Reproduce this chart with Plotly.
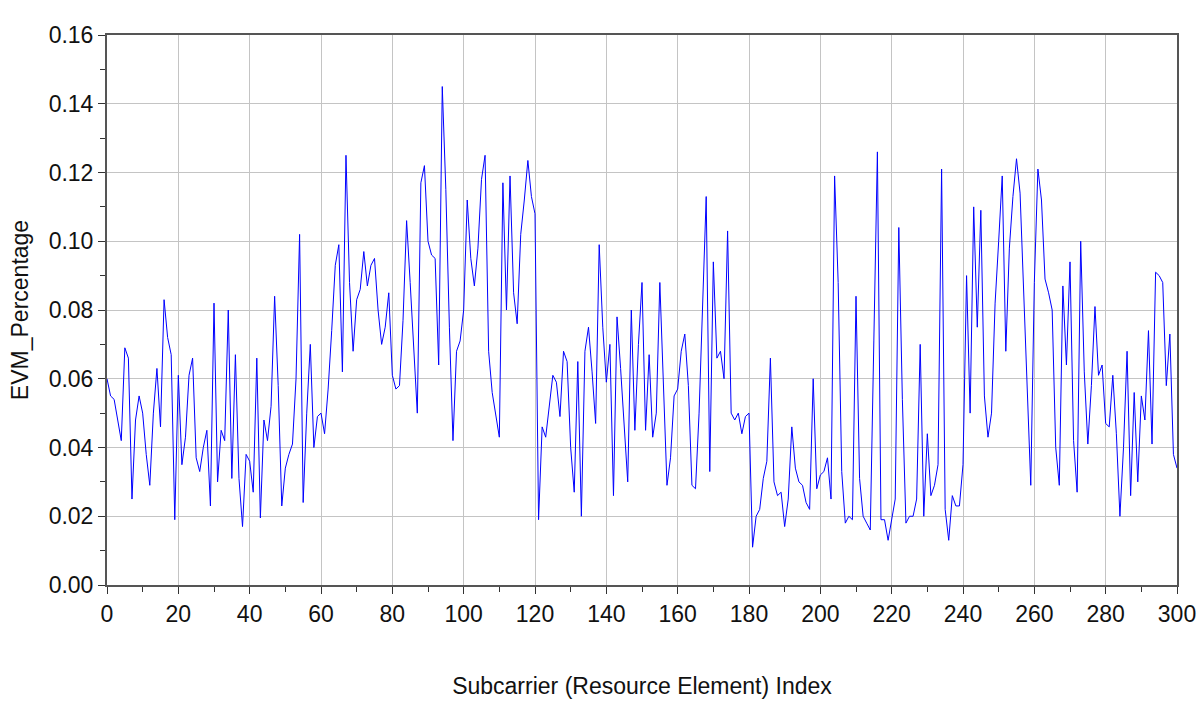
import plotly.graph_objects as go

# EVM per subcarrier (resource element) index, 0..300
subcarrier_index = list(range(301))
evm_percentage = [
    0.060, 0.055, 0.054, 0.048, 0.042, 0.069, 0.066, 0.025, 0.048, 0.055,
    0.050, 0.038, 0.029, 0.050, 0.063, 0.046, 0.083, 0.072, 0.067, 0.019,
    0.061, 0.035, 0.043, 0.061, 0.066, 0.037, 0.033, 0.040, 0.045, 0.023,
    0.082, 0.030, 0.045, 0.042, 0.080, 0.031, 0.067, 0.031, 0.017, 0.038,
    0.036, 0.027, 0.066, 0.0195, 0.048, 0.042, 0.052, 0.084, 0.058, 0.023,
    0.034, 0.038, 0.041, 0.060, 0.102, 0.024, 0.050, 0.070, 0.040, 0.049,
    0.050, 0.044, 0.057, 0.074, 0.093, 0.099, 0.062, 0.125, 0.088, 0.068,
    0.083, 0.086, 0.097, 0.087, 0.093, 0.095, 0.080, 0.070, 0.075, 0.085,
    0.061, 0.057, 0.058, 0.077, 0.106, 0.088, 0.067, 0.050, 0.117, 0.122,
    0.100, 0.096, 0.095, 0.064, 0.145, 0.115, 0.075, 0.042, 0.068, 0.071,
    0.080, 0.112, 0.095, 0.087, 0.098, 0.118, 0.125, 0.068, 0.056, 0.050,
    0.043, 0.117, 0.080, 0.119, 0.085, 0.076, 0.102, 0.112, 0.1235, 0.113,
    0.108, 0.019, 0.046, 0.043, 0.053, 0.061, 0.059, 0.049, 0.068, 0.065,
    0.040, 0.027, 0.065, 0.020, 0.068, 0.075, 0.062, 0.047, 0.099, 0.075,
    0.059, 0.070, 0.026, 0.078, 0.063, 0.045, 0.030, 0.080, 0.045, 0.070,
    0.088, 0.045, 0.067, 0.043, 0.050, 0.088, 0.060, 0.029, 0.037, 0.055,
    0.057, 0.068, 0.073, 0.058, 0.029, 0.028, 0.050, 0.080, 0.113, 0.033,
    0.094, 0.066, 0.068, 0.060, 0.103, 0.050, 0.048, 0.050, 0.044, 0.049,
    0.050, 0.011, 0.020, 0.022, 0.031, 0.036, 0.066, 0.030, 0.026, 0.027,
    0.017, 0.025, 0.046, 0.034, 0.030, 0.029, 0.024, 0.022, 0.060, 0.028,
    0.032, 0.033, 0.037, 0.025, 0.119, 0.088, 0.033, 0.018, 0.020, 0.019,
    0.084, 0.031, 0.020, 0.018, 0.016, 0.071, 0.126, 0.019, 0.019, 0.013,
    0.019, 0.025, 0.104, 0.054, 0.018, 0.020, 0.020, 0.025, 0.070, 0.020,
    0.044, 0.026, 0.029, 0.035, 0.121, 0.022, 0.013, 0.026, 0.023, 0.023,
    0.035, 0.090, 0.050, 0.110, 0.075, 0.109, 0.055, 0.043, 0.050, 0.082,
    0.100, 0.119, 0.068, 0.098, 0.113, 0.124, 0.114, 0.086, 0.062, 0.029,
    0.088, 0.121, 0.112, 0.089, 0.085, 0.080, 0.040, 0.029, 0.087, 0.064,
    0.094, 0.042, 0.027, 0.100, 0.062, 0.041, 0.058, 0.081, 0.061, 0.064,
    0.047, 0.046, 0.061, 0.044, 0.020, 0.040, 0.068, 0.026, 0.056, 0.030,
    0.055, 0.048, 0.074, 0.041, 0.091, 0.090, 0.088, 0.058, 0.073, 0.038,
    0.034,
]

x_title = "Subcarrier (Resource Element) Index"
y_title = "EVM_Percentage"

FONT = "Liberation Sans Narrow, Arial Narrow, Liberation Sans, Arial, sans-serif"
GRID = "#c4c4c4"
AXIS = "#555555"

fig = go.Figure(
    go.Scatter(
        x=subcarrier_index,
        y=evm_percentage,
        mode="lines",
        line=dict(color="#0000ff", width=1),
        hoverinfo="x+y",
    )
)

fig.update_layout(
    width=1200,
    height=702,
    margin=dict(l=107, r=23, t=35, b=117, autoexpand=False),
    paper_bgcolor="white",
    plot_bgcolor="white",
    showlegend=False,
    font=dict(family=FONT, size=23, color="#111111"),
)

fig.update_xaxes(
    range=[0, 300],
    tick0=0,
    dtick=20,
    ticks="outside",
    ticklen=7,
    tickcolor="#333333",
    showgrid=True,
    gridcolor=GRID,
    gridwidth=1,
    showline=True,
    linecolor=AXIS,
    linewidth=2,
    mirror=True,
    zeroline=False,
    automargin=False,
    minor=dict(dtick=10, ticks="outside", ticklen=5, tickcolor="#333333", showgrid=False),
    tickfont=dict(size=23, family=FONT),
    title=dict(text=x_title, font=dict(size=23, family=FONT), standoff=52),
)

fig.update_yaxes(
    range=[0, 0.16],
    tick0=0,
    dtick=0.02,
    tickformat=".2f",
    ticks="outside",
    ticklen=7,
    tickcolor="#333333",
    showgrid=True,
    gridcolor=GRID,
    gridwidth=1,
    showline=True,
    linecolor=AXIS,
    linewidth=2,
    mirror=True,
    zeroline=False,
    automargin=False,
    minor=dict(dtick=0.01, ticks="outside", ticklen=5, tickcolor="#333333", showgrid=False),
    tickfont=dict(size=23, family=FONT),
    title=dict(text=y_title, font=dict(size=23, family=FONT), standoff=14),
)

fig.write_html("out.html")
